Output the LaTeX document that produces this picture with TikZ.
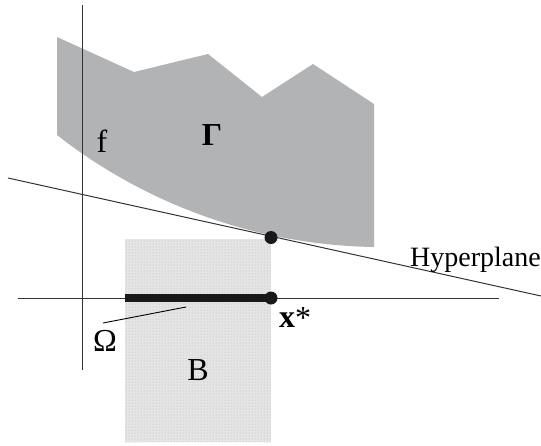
\documentclass[tikz,border=0pt]{standalone}
\usepackage{fontspec}
\setmainfont{Liberation Serif}
\usetikzlibrary{patterns}
\definecolor{gammagray}{RGB}{178,179,181}
\definecolor{boxgray}{RGB}{229,229,229}
\begin{document}
\begin{tikzpicture}[x=1pt,y=-1pt,
  lbl/.style={font=\fontsize{32}{34}\selectfont, inner sep=0pt},
  axis/.style={line width=1pt, black!80},
  dotnode/.style={circle, fill=black!90, minimum size=13pt, inner sep=0pt}]
\useasboundingbox (0,0) rectangle (541,445);
% box B
\fill[boxgray] (125,239) rectangle (271,442);
\fill[pattern=dots, pattern color=black!30] (125,239) rectangle (271,442);
% region Gamma
\fill[gammagray] (57,37) -- (134,72) -- (208,54) -- (262,97) -- (313,64) -- (374,104) -- (374,247)
  .. controls (250,245) and (140,200) .. (57,135) -- cycle;
% axes
\coordinate (vtop) at (82,5);
\coordinate (vbot) at (82,370);
\coordinate (hleft) at (18,298);
\coordinate (hright) at (499,298);
\coordinate (hpl) at (8,178);
\coordinate (hpr) at (541,296);
\draw[axis] (vtop) -- (vbot);
\draw[axis] (hleft) -- (hright);
\draw[axis] (hpl) -- (hpr);
% Omega segment
\coordinate (oml) at (125,298);
\node[dotnode] (xs) at (271,298) {};
\draw[line width=8pt, black!90] (oml) -- (xs.center);
\node[dotnode] (tp) at (271,237.5) {};
% labels
\node[lbl, anchor=base] (f) at (102,152) {f};
\node[lbl, anchor=base, font=\fontsize{32}{34}\selectfont\bfseries] (G) at (212,145) {Γ};
\node[lbl, anchor=base] (Om) at (105,351) {Ω};
\node[lbl, anchor=base] (B) at (198,380) {B};
\node[lbl, anchor=base west] (xst) at (279,327) {\textbf{x}\raisebox{-1pt}{*}};
\node[lbl, anchor=base east, font=\fontsize{28}{30}\selectfont] (hyp) at (541,266) {Hyperplane};
\coordinate (omtip) at (186,307);
\coordinate (omtail) at (103,323);
\draw[line width=0.9pt] (omtail) -- (omtip);
\end{tikzpicture}
\end{document}
